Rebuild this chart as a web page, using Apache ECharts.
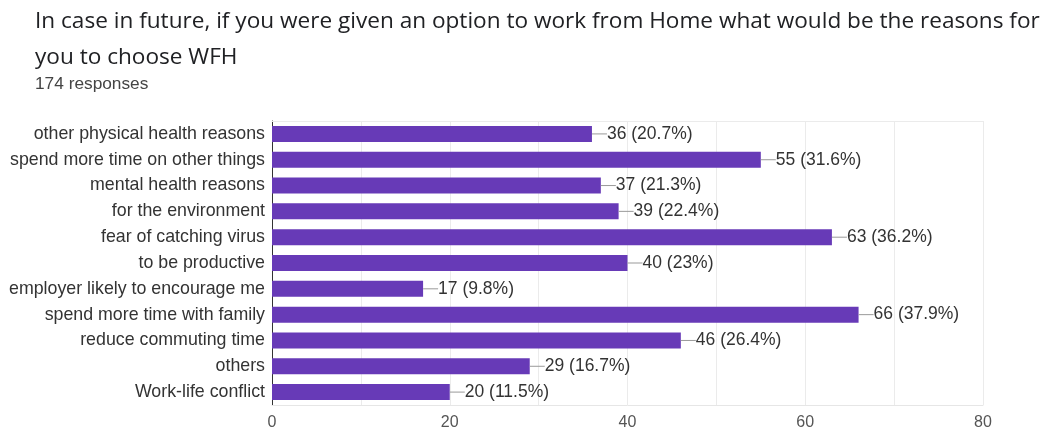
<!DOCTYPE html>
<html><head><meta charset="utf-8">
<script src="https://cdn.jsdelivr.net/npm/echarts@6/dist/echarts.min.js"></script>
<style>html,body{margin:0;padding:0;background:#fff}#c{width:1054px;height:434px}</style>
</head><body><div id="c"></div>
<script>
const titleLine1 = "In case in future, if you were given an option to work from Home what would be the reasons for";
const titleLine2 = "you to choose WFH";
const subtitle = "174 responses";
const categories = ["other physical health reasons","spend more time on other things","mental health reasons","for the environment","fear of catching virus","to be productive","employer likely to encourage me","spend more time with family","reduce commuting time","others","Work-life conflict"];
const counts = [36,55,37,39,63,40,17,66,46,29,20];
const percents = ["20.7","31.6","21.3","22.4","36.2","23","9.8","37.9","26.4","16.7","11.5"];
const xTicks = [0,20,40,60,80];

const F = "'Liberation Sans', Arial, sans-serif";
const chart = echarts.init(document.getElementById('c'), null, {renderer:'canvas'});
chart.setOption({
  animation:false,
  backgroundColor:'#fff',
  title:[
    {text:titleLine1+"\n"+titleLine2, left:30, top:-1, padding:[5,5,5,5], textStyle:{fontFamily:"'Open Sans', sans-serif", fontSize:22.6, fontWeight:'normal', color:'#202124', lineHeight:36}},
    {text:subtitle, left:30, top:71, textStyle:{fontFamily:F, fontSize:17.3, fontWeight:'normal', color:'#444'}}
  ],
  grid:{left:272, right:71, top:121, bottom:29, containLabel:false},
  xAxis:[{
    type:'value', min:0, max:80, interval:10,
    axisLine:{show:true, lineStyle:{color:'#e6e6e6'}},
    axisTick:{show:false},
    splitLine:{show:true, lineStyle:{color:'#ebebeb'}},
    axisLabel:{color:'#555', fontFamily:F, fontSize:16, margin:10,
      formatter:v=> xTicks.indexOf(v)>=0 ? String(v) : ''}
  },{
    type:'value', position:'top', min:0, max:80,
    axisLine:{show:true, lineStyle:{color:'#ebebeb'}},
    axisTick:{show:false}, axisLabel:{show:false}, splitLine:{show:false}
  }],
  yAxis:{
    type:'category', data:categories, inverse:true,
    axisLine:{show:true, lineStyle:{color:'#333', width:1}},
    axisTick:{show:false},
    axisLabel:{color:'#333', fontFamily:F, fontSize:17.8, margin:7}
  },
  series:[{
    type:'bar', xAxisIndex:0, data:counts, barWidth:16,
    itemStyle:{color:'#673ab7'},
    label:{show:true, position:'right', distance:0,
      formatter:p=>'{ln|}{t|'+counts[p.dataIndex]+' ('+percents[p.dataIndex]+'%)}',
      rich:{
        ln:{width:15, height:1, backgroundColor:'#999'},
        t:{color:'#333', fontFamily:F, fontSize:17.5, padding:[0,0,0,0]}
      }}
  }]
});
</script></body></html>
